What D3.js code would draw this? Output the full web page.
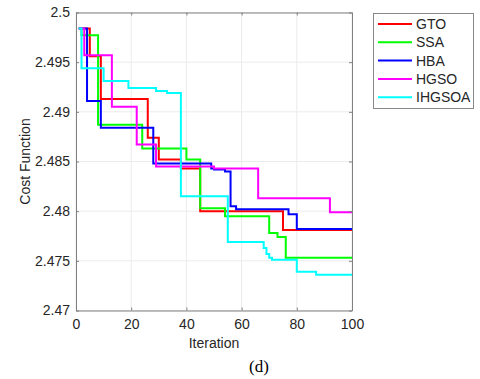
<!DOCTYPE html>
<html>
<head>
<meta charset="utf-8">
<script src="https://cdn.jsdelivr.net/npm/d3@7"></script>
<style>
  body { margin: 0; background: #fff; }
  text { font-family: "Liberation Sans", Arial, sans-serif; fill: #262626; }
</style>
</head>
<body>
<svg id="chart" width="480" height="379"></svg>
<script>
// convergence curves, [iteration, cost] at each step
const names = ['GTO', 'SSA', 'HBA', 'HGSO', 'IHGSOA']
const colors = ['#ff0000', '#00ff00', '#0000ff', '#ff00ff', '#00ffff']

const gto = [[1,2.4984],[5,2.4956],[9,2.4913],[26,2.4874],[30,2.4852],[38,2.4843],[45,2.4800],[75,2.4781],[100,2.4781]]
const ssa = [[1,2.4984],[2,2.4977],[8,2.4887],[24,2.4863],[40,2.4852],[45,2.4803],[54,2.4795],[70,2.4778],[73,2.4774],[76,2.4753],[100,2.4753]]
const hba = [[1,2.4984],[4,2.4911],[9,2.4884],[28,2.4848],[49,2.4843],[50,2.4842],[54,2.4840],[56,2.4805],[58,2.4802],[77,2.4797],[80,2.4782],[100,2.4782]]
const hgso = [[1,2.4984],[3,2.4957],[13,2.4905],[22,2.4867],[29,2.4845],[50,2.4843],[66,2.4813],[92,2.4799],[100,2.4799]]
const ihgsoa = [[1,2.4984],[2,2.4944],[10,2.4931],[19,2.4924],[29,2.4921],[33,2.4919],[38,2.4815],[55,2.4769],[68,2.4763],[69,2.4757],[70,2.4753],[71,2.4751],[80,2.4739],[87,2.4736],[100,2.4736]]
const series = [gto, ssa, hba, hgso, ihgsoa]

const xTicks = [0, 20, 40, 60, 80, 100]
const yTicks = [2.47, 2.475, 2.48, 2.485, 2.49, 2.495, 2.5]

const svg = d3.select('#chart')
const pLeft = 76, pRight = 352, pTop = 12.5, pBottom = 310.5

const x = d3.scaleLinear().domain([0, 100]).range([pLeft, pRight])
const y = d3.scaleLinear().domain([2.47, 2.5]).range([pBottom, pTop])

// grid
svg.append('g').selectAll('line')
    .data(xTicks)
    .join('line')
    .attr('x1', d => x(d)).attr('x2', d => x(d))
    .attr('y1', pTop).attr('y2', pBottom)
    .attr('stroke', '#ebebeb')
svg.append('g').selectAll('line')
    .data(yTicks)
    .join('line')
    .attr('x1', pLeft).attr('x2', pRight)
    .attr('y1', d => y(d)).attr('y2', d => y(d))
    .attr('stroke', '#ebebeb')

// curves
let line = d3.line()
    .x(d => x(d[0]))
    .y(d => y(d[1]))
    .curve(d3.curveStepAfter)

svg.append('g').selectAll('path')
    .data(series)
    .join('path')
    .attr('d', line)
    .attr('fill', 'none')
    .attr('stroke', (d, i) => colors[i])
    .attr('stroke-width', 2)

// axes, ticks inward like matlab
let xAxis = d3.axisBottom(x).tickValues(xTicks).tickSizeInner(-3).tickSizeOuter(0).tickPadding(9)
let yAxis = d3.axisLeft(y).tickValues(yTicks).tickSizeInner(-3).tickSizeOuter(0).tickPadding(6)
    .tickFormat(d => String(+d.toFixed(3)))

let gx = svg.append('g').attr('transform', `translate(0,${pBottom})`).call(xAxis)
let gy = svg.append('g').attr('transform', `translate(${pLeft},0)`).call(yAxis)
svg.append('g').attr('transform', `translate(0,${pTop})`)
    .call(d3.axisTop(x).tickValues(xTicks).tickSizeInner(-3).tickSizeOuter(0).tickFormat(''))
svg.append('g').attr('transform', `translate(${pRight},0)`)
    .call(d3.axisRight(y).tickValues(yTicks).tickSizeInner(-3).tickSizeOuter(0).tickFormat(''))

svg.selectAll('.domain').attr('stroke', '#808080')
svg.selectAll('.tick line').attr('stroke', '#808080')
svg.selectAll('.tick text')
    .style('font-family', '"Liberation Sans", Arial, sans-serif')
    .style('font-size', '14px')
    .attr('fill', '#262626')

// labels
svg.append('text')
    .attr('x', (pLeft + pRight) / 2).attr('y', 348)
    .attr('text-anchor', 'middle')
    .style('font-size', '14px')
    .text('Iteration')
svg.append('text')
    .attr('transform', `translate(30,${(pTop + pBottom) / 2}) rotate(-90)`)
    .attr('text-anchor', 'middle')
    .style('font-size', '14px')
    .text('Cost Function')
svg.append('text')
    .attr('x', 259).attr('y', 372)
    .attr('text-anchor', 'middle')
    .style('font-family', '"Liberation Serif", "Times New Roman", serif')
    .style('font-size', '17px')
    .style('fill', '#000')
    .text('(d)')

// legend
let lg = svg.append('g').attr('transform', 'translate(373,13)')
lg.append('rect')
    .attr('x', 0.5).attr('y', 0.5)
    .attr('width', 100).attr('height', 95)
    .attr('fill', '#fff')
    .attr('stroke', '#888')
let items = lg.selectAll('g')
    .data(names)
    .join('g')
    .attr('transform', (d, i) => `translate(0,${11 + i * 18.3})`)
items.append('line')
    .attr('x1', 5).attr('x2', 39)
    .attr('stroke', (d, i) => colors[i])
    .attr('stroke-width', 2)
items.append('text')
    .attr('x', 43).attr('dy', '0.35em')
    .style('font-size', '14px')
    .text(d => d)
</script>
</body>
</html>
